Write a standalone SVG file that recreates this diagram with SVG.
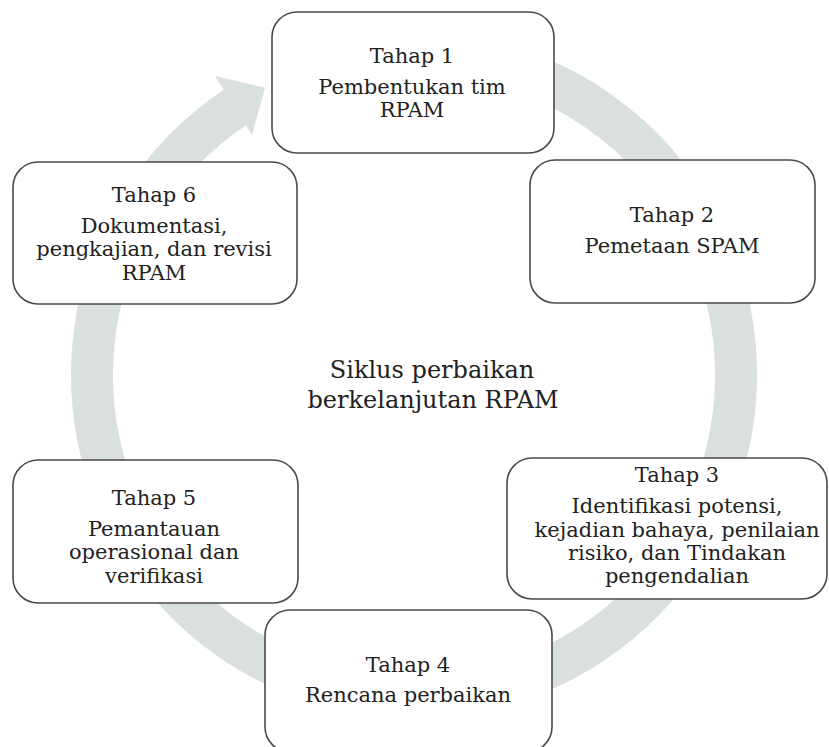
<svg xmlns="http://www.w3.org/2000/svg" width="829" height="747" viewBox="0 0 829 747">
<style>
.box{fill:#fff;stroke:#4a4a4a;stroke-width:1.6}
.t{font-family:"DejaVu Serif","Liberation Serif",serif;font-size:21px;fill:#222;text-anchor:middle}
.c{font-family:"DejaVu Serif","Liberation Serif",serif;font-size:24px;fill:#222;text-anchor:middle}
.band{fill:none;stroke:#dae1dc;stroke-width:42}
</style>
<rect width="829" height="747" fill="#fff"/>
<g id="connectors">
<path class="band" d="M 469.9 57.9 A 322 322 0 1 1 235.4 107.1"/>
<polygon points="215,76 265,87.7 252,135" fill="#dae1dc"/>
</g>
<g id="center">
<text class="c" x="432" y="378">Siklus perbaikan</text>
<text class="c" x="433" y="408">berkelanjutan RPAM</text>
</g>
<g id="tahap1">
<rect class="box" x="272" y="12" width="282" height="141" rx="25"/>
<text class="t" x="412" y="63">Tahap 1</text>
<text class="t" x="412" y="94">Pembentukan tim</text>
<text class="t" x="412" y="117">RPAM</text>
</g>
<g id="tahap2">
<rect class="box" x="530" y="160" width="285" height="143" rx="25"/>
<text class="t" x="672" y="222">Tahap 2</text>
<text class="t" x="672" y="253">Pemetaan SPAM</text>
</g>
<g id="tahap3">
<rect class="box" x="507" y="458" width="320" height="141" rx="25"/>
<text class="t" x="677" y="482">Tahap 3</text>
<text class="t" x="677" y="513">Identifikasi potensi,</text>
<text class="t" x="677" y="537">kejadian bahaya, penilaian</text>
<text class="t" x="677" y="560">risiko, dan Tindakan</text>
<text class="t" x="677" y="583">pengendalian</text>
</g>
<g id="tahap4">
<rect class="box" x="265" y="610" width="287" height="142" rx="25"/>
<text class="t" x="408" y="672">Tahap 4</text>
<text class="t" x="408" y="702">Rencana perbaikan</text>
</g>
<g id="tahap5">
<rect class="box" x="13" y="460" width="285" height="143" rx="25"/>
<text class="t" x="154" y="505">Tahap 5</text>
<text class="t" x="154" y="536">Pemantauan</text>
<text class="t" x="154" y="559">operasional dan</text>
<text class="t" x="154" y="583">verifikasi</text>
</g>
<g id="tahap6">
<rect class="box" x="13" y="162" width="284" height="142" rx="25"/>
<text class="t" x="154" y="202">Tahap 6</text>
<text class="t" x="154" y="233">Dokumentasi,</text>
<text class="t" x="154" y="256">pengkajian, dan revisi</text>
<text class="t" x="154" y="280">RPAM</text>
</g>
</svg>
